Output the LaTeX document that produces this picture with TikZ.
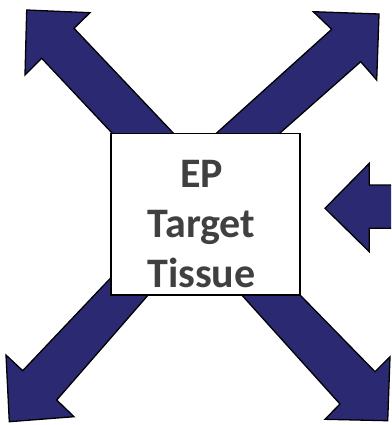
\documentclass[tikz,border=0pt]{standalone}
\usepackage{fontspec}
\setmainfont{Carlito}
\definecolor{navy}{RGB}{42,41,114}
\definecolor{txt}{RGB}{64,64,64}
\tikzset{
  arrowshape/.style={fill=navy, draw=black, line width=1.3pt, line join=miter},
  boxshape/.style={fill=white, draw=black, line width=1.1pt},
  lbl/.style={text=txt, font=\fontsize{42}{50}\selectfont\bfseries, anchor=base, inner sep=0pt}
}
\begin{document}
\begin{tikzpicture}[x=1pt,y=-1pt]
\useasboundingbox (0,0) rectangle (391,425);
\begin{scope}
\clip (0,0) rectangle (391,425);
% top-left arrow
\draw[arrowshape] (26.7,10) -- (90,12.7) -- (74,28.3) -- (213,175) -- (152,175.5) -- (41.7,58.3) -- (25,75) -- cycle;
% top-right arrow
\draw[arrowshape] (379,14) -- (376.7,80) -- (360.7,61.7) -- (240,168.3) -- (176.7,169) -- (331.7,29.3) -- (313.3,11.7) -- cycle;
% bottom-left arrow
\draw[arrowshape] (9.3,421.7) -- (6,355) -- (22.7,370.7) -- (151.7,234.7) -- (183,255) -- (56.7,400) -- (74,416.7) -- cycle;
% bottom-right arrow
\draw[arrowshape] (387.7,420.7) -- (325,419.3) -- (340,404) -- (205.7,255) -- (260,254) -- (375,371.7) -- (390,356.7) -- cycle;
% right arrow
\draw[arrowshape] (325,208.3) -- (369.3,163.3) -- (369.3,185) -- (396,185) -- (396,228.3) -- (369.3,228.3) -- (369.3,251.7) -- cycle;
\end{scope}
\node[boxshape, minimum width=189pt, minimum height=161.7pt, inner sep=0pt] (box) at (205.5,214.15) {};
\node[lbl] (ep) at (201.5,187.3) {EP};
\node[lbl] (target) at (201.5,237) {Target};
\node[lbl] (tissue) at (201.5,287) {Tissue};
\end{tikzpicture}
\end{document}
